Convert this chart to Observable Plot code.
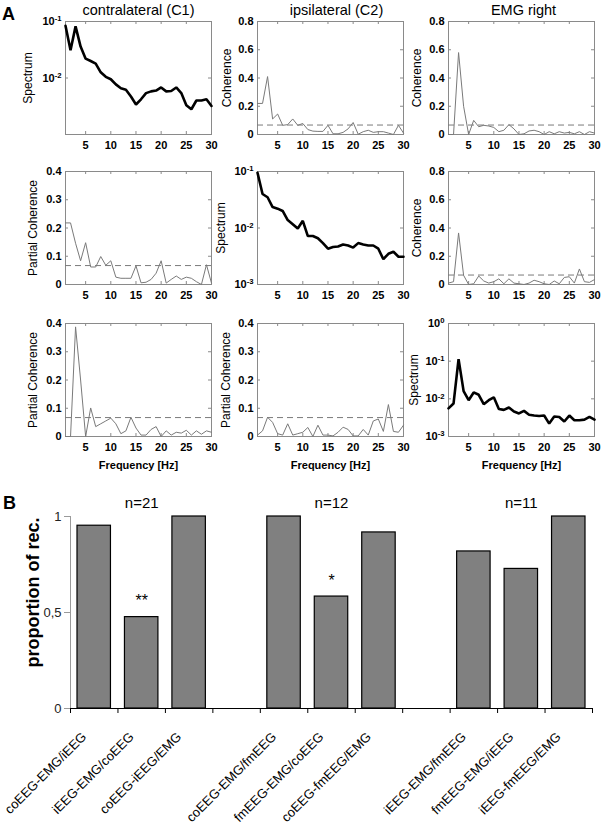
<!DOCTYPE html>
<html><head><meta charset="utf-8">
<script src="https://cdn.jsdelivr.net/npm/d3@7"></script>
<script src="https://cdn.jsdelivr.net/npm/@observablehq/plot@0.6"></script>
<style>
body{margin:0;background:#fff;}
#fig{position:relative;width:601px;height:825px;font-family:"Liberation Sans",Arial,sans-serif;overflow:hidden;background:#fff;}
#fig svg{position:absolute;overflow:visible;background:transparent;}
.lbl{position:absolute;font-weight:bold;font-size:18px;line-height:1;color:#000;}
</style></head><body><div id="fig"></div>
<script>
// ---------- Panel A data (frequency in Hz) ----------
const freq = [1,2,3,4,5,6,7,8,9,10,11,12,13,14,15,16,17,18,19,20,21,22,23,24,25,26,27,28,29,30];
const freqTicks = [5,10,15,20,25,30];
const threshold = 0.067;

const spectrumC1 = [0.084,0.031,0.082,0.036,0.022,0.020,0.018,0.0126,0.0105,0.0095,0.0077,0.0066,0.0062,0.0047,0.0034,0.0042,0.0054,0.0058,0.0060,0.0068,0.0058,0.0059,0.0068,0.0054,0.0033,0.0028,0.0040,0.0040,0.0042,0.0032];
const cohC1C2 = [0.22,0.22,0.41,0.11,0.145,0.065,0.07,0.11,0.065,0.078,0.035,0.024,0.022,0.022,0.065,0.005,0.005,0.015,0.04,0.085,0.002,0.02,0.03,0.015,0.02,0.02,0.01,0.0,0.065,0.01];
const cohC1EMG = [0,0,0.58,0.2,0,0.1,0.055,0.065,0.06,0.05,0.02,0.03,0.07,0.04,0,0.005,0.025,0.03,0.02,0,0.02,0.005,0.02,0.01,0.015,0.005,0.02,0,0.02,0.01];
const pcohC1C2 = [0.218,0.218,0.146,0.084,0.148,0.062,0.062,0.099,0.068,0.084,0.026,0.022,0.022,0.022,0.066,0.006,0.008,0.018,0.04,0.084,0.005,0.018,0.03,0.018,0.026,0.022,0.01,0.0,0.07,0.005];
const spectrumC2 = [0.095,0.040,0.035,0.0235,0.022,0.020,0.0138,0.0117,0.0098,0.0134,0.0072,0.0072,0.0066,0.0054,0.0043,0.0046,0.0047,0.0051,0.0049,0.0045,0.0054,0.0051,0.0049,0.0049,0.0043,0.0028,0.0035,0.0038,0.0031,0.0031];
const cohC2EMG = [0.01,0.02,0.365,0.065,0.0,0.005,0.06,0.025,0.01,0.02,0.04,0.005,0.04,0.01,0.005,0.0,0.01,0.03,0.02,0.005,0.0,0.025,0.005,0.05,0.055,0.01,0.11,0.02,0.015,0.035];
const pcohC1EMG = [0,0,0.388,0.2,0,0.101,0.035,0.045,0.055,0.065,0.045,0.01,0.02,0.068,0.03,0.005,0.005,0.025,0.035,0.0,0.02,0.005,0.015,0.012,0.022,0.005,0.02,0.008,0.02,0.015];
const pcohC2EMG = [0.005,0.02,0.068,0.05,0.01,0.005,0.045,0.005,0.01,0.015,0.032,0.0,0.04,0.005,0.005,0.002,0.015,0.033,0.025,0.002,0.002,0.025,0.005,0.055,0.062,0.018,0.113,0.018,0.015,0.04];
const spectrumEMG = [0.0056,0.0075,0.113,0.016,0.0092,0.0148,0.0128,0.0072,0.0092,0.011,0.0054,0.0051,0.0059,0.0046,0.0041,0.0048,0.0038,0.0036,0.0035,0.0036,0.0022,0.0034,0.0033,0.0025,0.0036,0.0027,0.0027,0.0028,0.0033,0.0028];

const columnTitles = ["contralateral (C1)", "ipsilateral (C2)", "EMG right"];
const xAxisLabel = "Frequency [Hz]";

// ---------- Panel B data ----------
const pairLabels = ["coEEG-EMG/iEEG","iEEG-EMG/coEEG","coEEG-iEEG/EMG","","coEEG-EMG/fmEEG","fmEEG-EMG/coEEG","coEEG-fmEEG/EMG","","iEEG-EMG/fmEEG","fmEEG-EMG/iEEG","iEEG-fmEEG/EMG"];
const proportions = [0.952,0.476,1.0,null,1.0,0.583,0.917,null,0.818,0.727,1.0];
const significance = ["","**","","","","*","","","","",""];
const groupNames = ["n=21","n=12","n=11"];
const groupSlots = [1,5,9];
const yTicksB = [0,0.5,1];
const yLabelB = "proportion of rec.";

// ---------- layout ----------
const fig = document.getElementById("fig");
const FONT = '"Liberation Sans", Arial, sans-serif';
const W = 146, H = 113, mL = 50, mR = 6, mB = 34;
const colLeft = [65, 257, 448];
const rowTop = [21, 171, 323];

function sup(svg) {
  svg.querySelectorAll("text").forEach(t => {
    const m = /^10\^(-?\d+)$/.exec(t.textContent);
    if (m) {
      t.textContent = "10";
      const ts = document.createElementNS("http://www.w3.org/2000/svg", "tspan");
      ts.setAttribute("dy", "-0.5em");
      ts.setAttribute("font-size", "0.7em");
      ts.textContent = m[1];
      t.appendChild(ts);
    }
  });
}

function panel(r, c, o) {
  const mT = r === 0 ? 21 : 20;
  const rows = freq.map((f, i) => ({f, v: o.values[i]}));
  const isLog = o.kind === "spec";
  const marks = [
    Plot.frame({stroke: "#8a8a8a"}),
    Plot.tickX(freqTicks, {x: d => d, insetTop: H - 3, stroke: "#8a8a8a"}),
    Plot.tickX(freqTicks, {x: d => d, insetBottom: H - 3, stroke: "#8a8a8a"}),
    Plot.tickY(o.yTicks, {y: d => d, insetLeft: W - 3, stroke: "#8a8a8a"}),
    Plot.tickY(o.yTicks, {y: d => d, insetRight: W - 3, stroke: "#8a8a8a"}),
    Plot.axisX(freqTicks, {tickSize: 0, tickPadding: 7, fontWeight: "bold", fontSize: 11, label: null}),
    Plot.axisY(o.yLabels, {tickSize: 0, tickPadding: 4, fontWeight: "bold", fontSize: 11, label: null,
      tickFormat: isLog ? (d => "10^" + Math.round(Math.log10(d))) : (d => d === 0 ? "0" : String(d))}),
  ];
  if (!isLog) marks.push(Plot.ruleY([threshold], {stroke: "#7a7a7a", strokeDasharray: "6,4", strokeWidth: 1}));
  marks.push(Plot.line(rows, {x: "f", y: "v", stroke: isLog ? "#000" : "#7a7a7a", strokeWidth: isLog ? 2.6 : 1, strokeLinejoin: "miter"}));
  marks.push(Plot.text([o.yLabel], {frameAnchor: "left", textAnchor: "middle", lineAnchor: "middle", rotate: -90, dx: -o.yDx, fontSize: 12, fill: "#000"}));
  if (r === 0) marks.push(Plot.text([columnTitles[c]], {frameAnchor: "top", lineAnchor: "middle", dy: -11, dx: o.tDx || 0, fontSize: 14.5, fill: "#000"}));
  if (r === 2) marks.push(Plot.text([xAxisLabel], {frameAnchor: "bottom", lineAnchor: "middle", dy: 29, fontSize: 11, fontWeight: "bold", fill: "#000"}));
  const svg = Plot.plot({
    width: mL + W + mR, height: mT + H + mB,
    marginLeft: mL, marginRight: mR, marginTop: mT, marginBottom: mB,
    style: {fontFamily: FONT, background: "transparent", overflow: "visible"},
    x: {domain: [1, 30]},
    y: isLog ? {type: "log", domain: o.domain} : {domain: o.domain},
    marks
  });
  sup(svg);
  svg.style.left = (colLeft[c] - mL) + "px";
  svg.style.top = (rowTop[r] - mT) + "px";
  fig.appendChild(svg);
}

const coh = {kind: "coh", domain: [0, 0.8], yTicks: [0,0.2,0.4,0.6,0.8], yLabels: [0,0.2,0.4,0.6,0.8], yLabel: "Coherence"};
const pcoh = {kind: "pcoh", domain: [0, 0.4], yTicks: [0,0.1,0.2,0.3,0.4], yLabels: [0,0.1,0.2,0.3,0.4], yLabel: "Partial Coherence"};

panel(0, 0, {kind: "spec", domain: [1e-3, 1e-1], yTicks: [1e-3,1e-2,1e-1], yLabels: [1e-2, 1e-1], yLabel: "Spectrum", yDx: 37, values: spectrumC1});
panel(0, 1, {...coh, yDx: 30, tDx: 6, values: cohC1C2});
panel(0, 2, {...coh, yDx: 31, tDx: 2, values: cohC1EMG});
panel(1, 0, {...pcoh, yDx: 32, values: pcohC1C2});
panel(1, 1, {kind: "spec", domain: [1e-3, 1e-1], yTicks: [1e-3,1e-2,1e-1], yLabels: [1e-3,1e-2,1e-1], yLabel: "Spectrum", yDx: 36, values: spectrumC2});
panel(1, 2, {...coh, yDx: 31, values: cohC2EMG});
panel(2, 0, {...pcoh, yDx: 32, values: pcohC1EMG});
panel(2, 1, {...pcoh, yDx: 31, values: pcohC2EMG});
panel(2, 2, {kind: "spec", domain: [1e-3, 1], yTicks: [1e-3,1e-2,1e-1,1], yLabels: [1e-3,1e-2,1e-1,1], yLabel: "Spectrum", yDx: 34, values: spectrumEMG});

// ---------- Panel B ----------
const bars = proportions.map((v, i) => ({i, v, label: pairLabels[i], star: significance[i]}));
const barsDrawn = bars.filter(d => d.v != null);
const groups = groupNames.map((n, k) => ({n, slot: groupSlots[k]}));
const slotEdges = d3.range(0, pairLabels.length + 1);
const B = Plot.plot({
  width: 601, height: 355,
  marginLeft: 70, marginRight: 9, marginTop: 46, marginBottom: 117,
  style: {fontFamily: FONT, background: "transparent", overflow: "visible"},
  x: {domain: [0, pairLabels.length]},
  y: {domain: [0, 1]},
  marks: [
    Plot.rectY(barsDrawn, {x1: "i", x2: d => d.i + 1, y1: () => 0, y2: "v", fill: "#808080", stroke: "#000", strokeWidth: 1.2, insetLeft: 7, insetRight: 7}),
    Plot.ruleX([0], {stroke: "#9a9a9a"}),
    Plot.ruleY([0], {stroke: "#000"}),
    Plot.axisX(slotEdges, {tickSize: 5, tickFormat: () => "", stroke: "#000", label: null}),
    Plot.axisY(yTicksB, {tickSize: 6, tickPadding: 3, stroke: "#9a9a9a", fill: "#222", fontSize: 13, label: null,
      tickFormat: d => String(d).replace(".", ",")}),
    Plot.text(barsDrawn, {x: d => d.i + 0.5, y: () => 0, text: "label", rotate: -45, textAnchor: "end", lineAnchor: "bottom", dx: -7, dy: 29, fontSize: 13, fill: "#000"}),
    Plot.text(barsDrawn.filter(d => d.star), {x: d => d.i + 0.5, y: "v", text: "star", dy: -16, fontSize: 16, fill: "#000"}),
    Plot.text(groups, {x: d => d.slot + 0.5, text: "n", frameAnchor: "top", lineAnchor: "middle", dy: -13, fontSize: 15, fill: "#000"}),
    Plot.text([yLabelB], {frameAnchor: "left", textAnchor: "middle", lineAnchor: "middle", rotate: -90, dx: -37, dy: -20, fontSize: 18, fontWeight: "bold", fill: "#000"})
  ]
});
B.style.left = "0px";
B.style.top = "470px";
fig.appendChild(B);

// panel letters
for (const [t, x, y] of [["A", 2, 5], ["B", 3, 494]]) {
  const d = document.createElement("div");
  d.className = "lbl"; d.textContent = t;
  d.style.left = x + "px"; d.style.top = y + "px";
  fig.appendChild(d);
}
</script></body></html>
